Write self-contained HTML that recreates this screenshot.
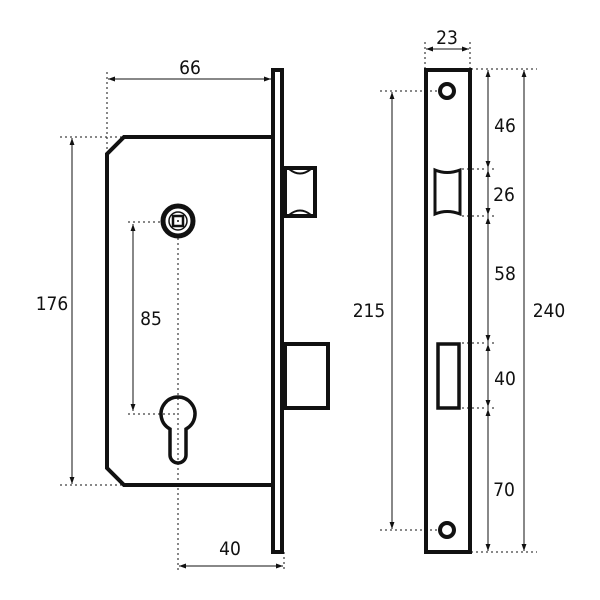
<!DOCTYPE html>
<html><head><meta charset="utf-8"><style>
html,body{margin:0;padding:0;background:#fff;width:600px;height:600px;overflow:hidden}
svg text{font-family:"DejaVu Sans Condensed","Liberation Sans",sans-serif;font-size:19px;fill:#111}
</style></head><body>
<svg width="600" height="600" viewBox="0 0 600 600" xmlns="http://www.w3.org/2000/svg">
<defs>
<marker id="a" viewBox="0 0 10 10" refX="10" refY="5" markerWidth="7" markerHeight="7" orient="auto-start-reverse"><path d="M0,1.5 L10,5 L0,8.5z" fill="#111"/></marker>
</defs>
<g stroke="#111" stroke-width="1" stroke-dasharray="2,3" fill="none">
<line x1="107" y1="72" x2="107" y2="152"/>
<line x1="60" y1="137" x2="124" y2="137"/>
<line x1="60" y1="485" x2="124" y2="485"/>
<line x1="128" y1="222" x2="165" y2="222"/>
<line x1="128" y1="414" x2="178" y2="414"/>
<line x1="178" y1="238" x2="178" y2="572"/>
<line x1="284" y1="552" x2="284" y2="572"/>
<line x1="425" y1="42" x2="425" y2="69"/>
<line x1="470" y1="42" x2="470" y2="69"/>
<line x1="471" y1="69" x2="537" y2="69"/>
<line x1="471" y1="552" x2="537" y2="552"/>
<line x1="380" y1="91" x2="440" y2="91"/>
<line x1="380" y1="530" x2="440" y2="530"/>
<line x1="462" y1="169" x2="495" y2="169"/>
<line x1="462" y1="216" x2="495" y2="216"/>
<line x1="462" y1="343" x2="495" y2="343"/>
<line x1="462" y1="408" x2="495" y2="408"/>
</g>
<g stroke="#111" stroke-width="1" marker-start="url(#a)" marker-end="url(#a)">
<line x1="108" y1="79" x2="271" y2="79"/>
<line x1="72" y1="138" x2="72" y2="484"/>
<line x1="179" y1="566" x2="283" y2="566"/>
<line x1="426" y1="49" x2="469" y2="49"/>
<line x1="392" y1="92" x2="392" y2="529"/>
<line x1="488" y1="70" x2="488" y2="168"/>
<line x1="488" y1="170" x2="488" y2="215"/>
<line x1="488" y1="217" x2="488" y2="342"/>
<line x1="488" y1="344" x2="488" y2="407"/>
<line x1="488" y1="409" x2="488" y2="551"/>
<line x1="524" y1="70" x2="524" y2="551"/>
</g>
<line x1="133" y1="224" x2="133" y2="411" stroke="#111" stroke-width="1" marker-start="url(#a)" marker-end="url(#a)"/>
<g fill="none" stroke="#111" stroke-width="4">
<path d="M273,137 L124,137 L107,154 L107,468 L124,485 L273,485"/>
<rect x="273" y="70" width="9" height="482"/>
<rect x="285" y="168" width="30" height="48"/>
<rect x="285" y="344" width="43" height="64"/>
<path d="M170,429 A17,17 0 1 1 186,429 L186,455 A8,8 0 0 1 170,455 Z" stroke-width="3.5"/>
<rect x="426" y="70" width="44" height="482"/>
<circle cx="447" cy="91" r="7"/>
<circle cx="447" cy="530" r="7"/>
<rect x="438" y="344" width="21" height="64" stroke-width="3.5"/>
</g>
<g fill="none" stroke="#111" stroke-width="2">
<path d="M289,169 Q300,178 311,169 M289,215 Q300,206 311,215"/>
<path d="M435,170 Q447,175 460,170 L460,214 Q447,209 435,214 Z" stroke-width="3"/>
</g>
<circle cx="178" cy="221" r="15" fill="none" stroke="#111" stroke-width="5"/>
<circle cx="178" cy="221" r="9" fill="none" stroke="#111" stroke-width="1.5"/>
<rect x="173" y="216" width="10" height="10" fill="none" stroke="#111" stroke-width="2.5"/>
<circle cx="178" cy="221" r="1" fill="#111"/>
<text x="190" y="74" text-anchor="middle">66</text>
<text x="52" y="310" text-anchor="middle">176</text>
<text x="151" y="325" text-anchor="middle">85</text>
<text x="230" y="555" text-anchor="middle">40</text>
<text x="447" y="44" text-anchor="middle">23</text>
<text x="369" y="317" text-anchor="middle">215</text>
<text x="505" y="132" text-anchor="middle">46</text>
<text x="504" y="201" text-anchor="middle">26</text>
<text x="505" y="280" text-anchor="middle">58</text>
<text x="505" y="385" text-anchor="middle">40</text>
<text x="504" y="496" text-anchor="middle">70</text>
<text x="549" y="317" text-anchor="middle">240</text>
</svg>
</body></html>
